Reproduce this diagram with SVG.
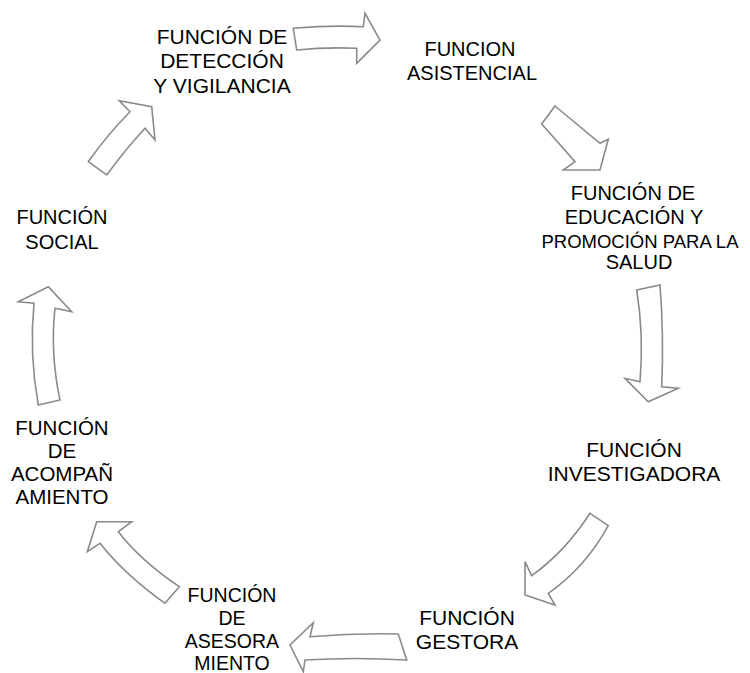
<svg xmlns="http://www.w3.org/2000/svg" width="750" height="673" viewBox="0 0 750 673">
<style>
.t{font-family:"Liberation Sans",Arial,sans-serif;font-size:20px;fill:#000;text-anchor:middle}
.a{fill:#fff;stroke:#8a8a8a;stroke-width:1.6;stroke-linejoin:miter}
</style>
<rect width="750" height="673" fill="#fff"/>
<g id="connectors">
<path class="a" d="M293.3,28.3 Q330,25 363.3,26.7 L365,13.3 L380,40 L356.7,63.3 L356.7,48.3 Q326,47 296.7,50 Z"/>
<path class="a" d="M555,106 L600,143.3 L608.3,139.3 L600,170 L563.3,170 L575,161.7 L541.7,124 Z"/>
<path class="a" d="M636.7,290 L660,285 Q664,335 661.7,386.7 L678.3,388.3 L648.3,401.7 L625,378.3 L640,381.7 Q644,335 636.7,290 Z"/>
<path class="a" d="M590,513.3 L608.3,525.7 Q585,568 548.3,593.3 L555,605 L525,595 L525,561.7 L531.7,575.7 Q565,552 590,513.3 Z"/>
<path class="a" d="M406.7,660 Q355,657 305,660 L303.3,671.7 L290,645 L313.3,622.7 L310,636.7 Q355,633 398.3,634 Z"/>
<path class="a" d="M179.3,586.7 L165,603.3 Q125,575 100,543.3 L87.3,551.7 L96.7,521.7 L131.7,521.7 L118.3,531.7 Q140,560 179.3,586.7 Z"/>
<path class="a" d="M38.3,405 Q29,353 34,303.3 L18.3,301.7 L48.3,286.7 L71.7,311.7 L55,308.3 Q50,353 60,400 Z"/>
<path class="a" d="M88.3,161.7 L106.7,175 Q125,150 145,128.3 L155,140 L151.7,106.7 L119.3,100.7 L130,111.7 Q107,135 88.3,161.7 Z"/>
</g>
<g id="n1"><text class="t" style="font-size:21px" x="222" y="44">FUNCIÓN DE</text><text class="t" style="font-size:21px" x="222" y="68">DETECCIÓN</text><text class="t" style="font-size:21px" x="222" y="93">Y VIGILANCIA</text></g>
<g id="n2"><text class="t" x="470" y="56">FUNCION</text><text class="t" x="472" y="80">ASISTENCIAL</text></g>
<g id="n3"><text class="t" x="633" y="200">FUNCIÓN DE</text><text class="t" x="634" y="224">EDUCACIÓN Y</text><text class="t" style="font-size:18.5px" x="640" y="248">PROMOCIÓN PARA LA</text><text class="t" x="639" y="269">SALUD</text></g>
<g id="n4"><text class="t" style="font-size:21px" x="634" y="457">FUNCIÓN</text><text class="t" style="font-size:21px" x="634" y="481">INVESTIGADORA</text></g>
<g id="n5"><text class="t" style="font-size:21px" x="467" y="625">FUNCIÓN</text><text class="t" style="font-size:21px" x="467" y="649">GESTORA</text></g>
<g id="n6"><text class="t" style="font-size:19.5px" x="232" y="602">FUNCIÓN</text><text class="t" style="font-size:19.5px" x="232" y="625">DE</text><text class="t" style="font-size:19.5px" x="232" y="648">ASESORA</text><text class="t" style="font-size:19.5px" x="232" y="670">MIENTO</text></g>
<g id="n7"><text class="t" style="font-size:20.5px" x="62" y="435">FUNCIÓN</text><text class="t" style="font-size:20.5px" x="62" y="458">DE</text><text class="t" style="font-size:20.5px" x="62" y="481">ACOMPAÑ</text><text class="t" style="font-size:20.5px" x="62" y="504">AMIENTO</text></g>
<g id="n8"><text class="t" x="62" y="224">FUNCIÓN</text><text class="t" x="62" y="249">SOCIAL</text></g>
</svg>
